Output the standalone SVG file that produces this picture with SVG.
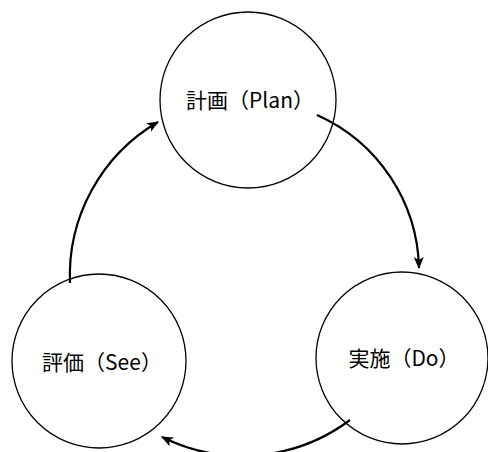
<svg xmlns="http://www.w3.org/2000/svg" width="488" height="452" viewBox="0 0 488 452">
<style>
.node circle{fill:#fff;stroke:#000;stroke-width:1.3}
.node text{font-family:"Noto Sans CJK JP","Noto Sans",sans-serif;font-size:21px;font-weight:400;fill:#000;text-anchor:middle;dominant-baseline:central}
.conn path{fill:none;stroke:#000;stroke-width:2.2}
</style>
<defs>
<marker id="ah" markerWidth="12" markerHeight="10" refX="11" refY="5" orient="auto" markerUnits="userSpaceOnUse">
<path d="M0,0 L12,5 L0,10 L3,5 Z" fill="#000"/>
</marker>
</defs>
<rect width="488" height="452" fill="#fff"/>
<g id="plan" class="node">
<circle cx="248" cy="100" r="88"/>
<text x="250" y="99">計画（Plan）</text>
</g>
<g id="do" class="node">
<circle cx="402" cy="358" r="86"/>
<text x="404" y="357">実施（Do）</text>
</g>
<g id="see" class="node">
<circle cx="99" cy="361" r="87"/>
<text x="102" y="361">評価（See）</text>
</g>
<g id="connectors" class="conn">
<path d="M317,115 A172,172 0 0 1 419,268" marker-end="url(#ah)"/>
<path d="M350,420 A180,180 0 0 1 162,437" marker-end="url(#ah)"/>
<path d="M70,283 A178,178 0 0 1 158,122" marker-end="url(#ah)"/>
</g>
</svg>
